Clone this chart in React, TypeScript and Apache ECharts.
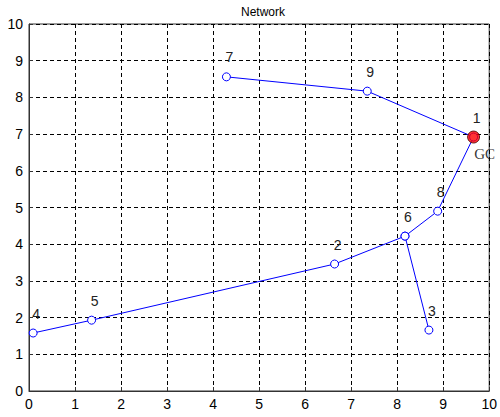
import React, { useEffect, useRef } from "react";
import * as echarts from "echarts";

const nodeIds = ["1", "2", "3", "4", "5", "6", "7", "8", "9"];
const nodeX = [9.66, 6.64, 8.69, 0.09, 1.36, 8.17, 4.29, 8.88, 7.35];
const nodeY = [6.92, 3.46, 1.66, 1.58, 1.93, 4.22, 8.56, 4.9, 8.17];
const pathOrder = ["4", "5", "2", "6", "8", "1", "9", "7"];
const branchOrder = ["6", "3"];
const gcNode = "1";
const gcLabel = "GC";
const ticks = [0, 1, 2, 3, 4, 5, 6, 7, 8, 9, 10];

function pt(id: string) {
  const i = nodeIds.indexOf(id);
  return { name: id, value: [nodeX[i], nodeY[i]] };
}

export default function App() {
  const ref = useRef<HTMLDivElement>(null);
  useEffect(() => {
    const chart = echarts.init(ref.current!, undefined, { renderer: "svg" });
    const axisCommon = {
      min: ticks[0],
      max: ticks[ticks.length - 1],
      interval: 1,
      axisLine: { show: true, lineStyle: { color: "#333", width: 1 } },
      axisTick: { show: true, inside: true, length: 4, lineStyle: { color: "#333" } },
      axisLabel: { color: "#000", fontSize: 14, fontFamily: "Liberation Sans, Arial, sans-serif" },
      splitLine: { show: true, lineStyle: { color: "#000", type: [4, 3], width: 1 } },
    };
    const label = {
      show: true,
      position: "top" as const,
      offset: [3, -3],
      formatter: (p: any) => p.name,
      color: "#222",
      fontSize: 14,
      fontFamily: "Liberation Sans, Arial, sans-serif",
    };
    chart.setOption({
      animation: false,
      backgroundColor: "#fff",
      title: {
        text: "Network",
        left: 258,
        top: 1,
        textAlign: "center",
        textStyle: { fontSize: 12, fontWeight: "normal", color: "#000", fontFamily: "Liberation Sans, Arial, sans-serif" },
      },
      grid: { left: 29, right: 7, top: 24, bottom: 26, show: true, borderColor: "#333", borderWidth: 1, backgroundColor: "#fff" },
      xAxis: { type: "value", ...axisCommon, position: "bottom", axisLabel: { ...axisCommon.axisLabel, margin: 6 } },
      yAxis: { type: "value", ...axisCommon, position: "left", axisLabel: { ...axisCommon.axisLabel, margin: 6 } },
      series: [
        {
          type: "line",
          data: pathOrder.map(pt),
          lineStyle: { color: "#0000ff", width: 1 },
          itemStyle: { color: "#fff", borderColor: "#0000ff", borderWidth: 1 },
          symbol: "circle",
          symbolSize: 8,
          showAllSymbol: true,
          label,
          z: 3,
        },
        {
          type: "line",
          data: branchOrder.map(pt),
          lineStyle: { color: "#0000ff", width: 1 },
          itemStyle: { color: "#fff", borderColor: "#0000ff", borderWidth: 1 },
          symbol: "circle",
          symbolSize: 8,
          label: { ...label, formatter: (p: any) => (p.name === "6" ? "" : p.name) },
          z: 3,
        },
        {
          type: "scatter",
          data: [pt(gcNode)],
          symbol: "circle",
          symbolSize: 12,
          itemStyle: { color: "#ff0000", borderColor: "#400000", borderWidth: 1 },
          label: {
            show: true,
            position: "bottom",
            offset: [11, -2],
            formatter: () => gcLabel,
            color: "#000",
            fontSize: 15,
            fontFamily: "Liberation Serif, Times New Roman, serif",
          },
          z: 5,
        },
      ],
    });
    return () => chart.dispose();
  }, []);
  return <div ref={ref} style={{ position: "fixed", left: 0, top: 0, width: 500, height: 417 }} />;
}
